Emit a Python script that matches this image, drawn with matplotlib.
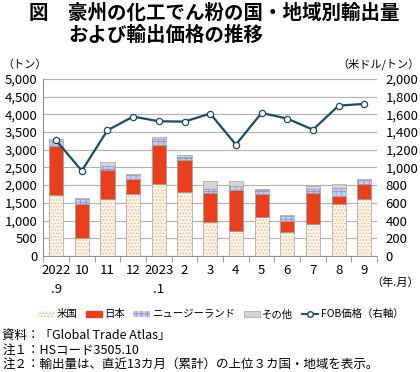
import matplotlib
matplotlib.use('Agg')
import matplotlib.pyplot as plt
import numpy as np
from matplotlib.lines import Line2D
from matplotlib.patches import Patch

plt.rcParams['font.family'] = ['Noto Sans CJK JP', 'DejaVu Sans']
plt.rcParams['hatch.linewidth'] = 0.6

# data
months = ['2022\n.9', '10', '11', '12', '2023\n.1', '2', '3', '4', '5', '6', '7', '8', '9']
usa = [1726, 519, 1604, 1745, 2028, 1811, 972, 717, 1113, 689, 896, 1462, 1613]
japan = [1387, 943, 830, 434, 1104, 906, 802, 1151, 632, 302, 878, 217, 425]
nz = [142, 142, 113, 113, 170, 75, 113, 113, 104, 141, 113, 236, 94]
other = [47, 19, 104, 29, 66, 57, 236, 123, 38, 19, 94, 123, 47]
fob = [1306, 962, 1419, 1574, 1521, 1517, 1608, 1257, 1615, 1551, 1426, 1698, 1717]

fig = plt.figure(figsize=(4.2, 3.72), dpi=100)
ax = fig.add_axes([0.103, 0.312, 0.795, 0.476])
x = np.arange(len(months))
w = 0.55

usa_a = np.array(usa)
jp_a = np.array(japan)
nz_a = np.array(nz)
ot_a = np.array(other)

# stacked bars
ax.bar(x, usa_a, w, color='#fdf3e6', edgecolor='#e6b98a', hatch='.....', linewidth=0, zorder=2)
ax.bar(x, usa_a, w, facecolor='none', edgecolor='#a0a0a0', linewidth=0.5, zorder=3)
ax.bar(x, jp_a, w, bottom=usa_a, color='#e8401c', edgecolor='#a0a0a0', linewidth=0.5, zorder=3)
ax.bar(x, nz_a, w, bottom=usa_a + jp_a, color='#c8ccf0', edgecolor='#8890d0', hatch='+++', linewidth=0, zorder=2)
ax.bar(x, nz_a, w, bottom=usa_a + jp_a, facecolor='none', edgecolor='#a0a0a0', linewidth=0.5, zorder=3)
ax.bar(x, ot_a, w, bottom=usa_a + jp_a + nz_a, color='#d4d4d4', edgecolor='#a0a0a0', linewidth=0.5, zorder=3)

ax.set_ylim(0, 5000)
ax.set_yticks(np.arange(0, 5001, 500))
ax.set_yticklabels([f'{v:,}' for v in range(0, 5001, 500)], fontsize=9.5)
ax.set_xlim(-0.5, len(months) - 0.5)
ax.set_xticks(x)
ax.set_xticklabels(months, fontsize=9.5, linespacing=1.6, va='top')
ax.set_xticks(np.arange(-0.5, len(months), 1), minor=True)
ax.tick_params(axis='x', which='major', length=0, pad=6)
ax.tick_params(axis='x', which='minor', length=4, color='#909090')
ax.tick_params(axis='y', length=0, pad=4)
ax.grid(axis='y', color='#b0b0b0', linewidth=0.8, zorder=0)
for s in ['top', 'right']:
    ax.spines[s].set_visible(False)
ax.spines['left'].set_color('#909090')
ax.spines['bottom'].set_color('#909090')

# price line on right axis
ax2 = ax.twinx()
ax2.plot(x, fob, color='#1b4a63', linewidth=1.6, marker='o', markersize=4.5,
         markerfacecolor='white', markeredgecolor='#1b4a63', markeredgewidth=0.9, zorder=5)
ax2.set_ylim(0, 2000)
ax2.set_yticks(np.arange(0, 2001, 200))
ax2.set_yticklabels([f'{v:,}' for v in range(0, 2001, 200)], fontsize=9.5)
ax2.tick_params(axis='y', length=0, pad=6)
for s in ['top', 'right', 'left', 'bottom']:
    ax2.spines[s].set_visible(False)

# titles and units
fig.text(0.07, 0.965, '図　豪州の化工でん粉の国・地域別輸出量', fontsize=14, fontweight='bold', va='center', ha='left')
fig.text(0.163, 0.905, 'および輸出価格の推移', fontsize=14, fontweight='bold', va='center', ha='left')
fig.text(0.005, 0.825, '（トン）', fontsize=8, va='center', ha='left')
fig.text(0.998, 0.825, '（米ドル/トン）', fontsize=8, va='center', ha='right')
fig.text(0.998, 0.24, '（年.月）', fontsize=8, va='center', ha='right')

handles = [
    Patch(facecolor='#fdf3e6', edgecolor='#e6b98a', hatch='.....', linewidth=0),
    Patch(facecolor='#e8401c', edgecolor='#e8401c'),
    Patch(facecolor='#c8ccf0', edgecolor='#8890d0', hatch='+++', linewidth=0),
    Patch(facecolor='#d4d4d4', edgecolor='#a0a0a0', linewidth=0.5),
    Line2D([0], [0], color='#1b4a63', marker='o', markersize=4, markerfacecolor='white',
           markeredgecolor='#1b4a63', linewidth=1.4),
]
labels = ['米国', '日本', 'ニュージーランド', 'その他', 'FOB価格（右軸）']
fig.legend(handles, labels, loc='center', bbox_to_anchor=(0.525, 0.155), ncol=5, frameon=False,
           fontsize=7.5, handlelength=1.6, handleheight=0.5, handletextpad=0.2, columnspacing=0.8)

fig.text(0.005, 0.097, '資料：「Global Trade Atlas」', fontsize=9, va='center', ha='left')
fig.text(0.005, 0.058, '注１：HSコード3505.10', fontsize=9, va='center', ha='left')
fig.text(0.005, 0.018, '注２：輸出量は、直近13カ月（累計）の上位３カ国・地域を表示。', fontsize=9, va='center', ha='left')

fig.savefig('out.png', dpi=100)
